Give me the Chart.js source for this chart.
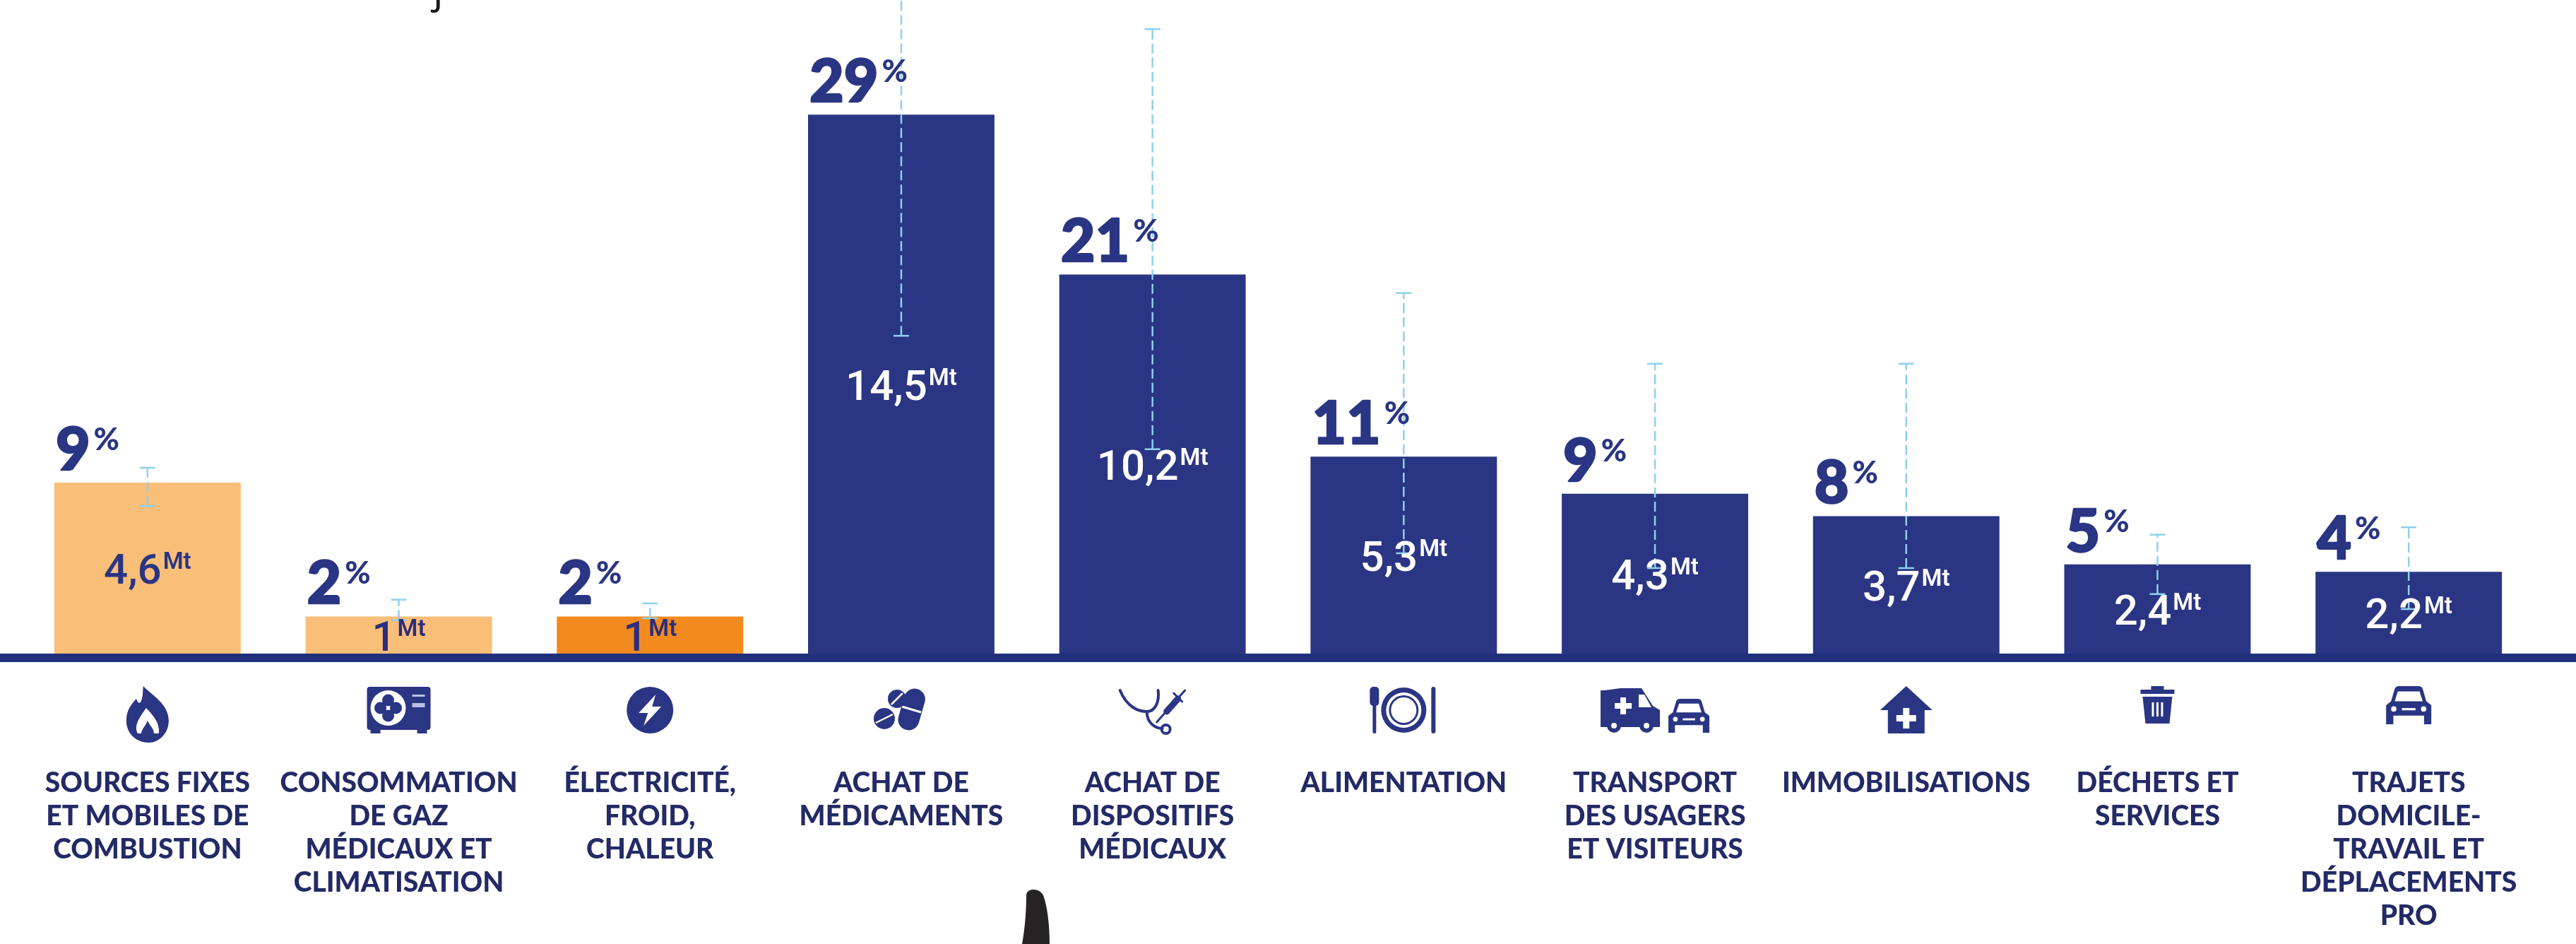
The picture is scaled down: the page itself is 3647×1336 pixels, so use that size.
<!DOCTYPE html>
<html><head><meta charset="utf-8">
<style>html,body{margin:0;padding:0;background:#fff}canvas{display:block}</style>
<script src="https://cdn.jsdelivr.net/npm/chart.js@4"></script>
</head><body><canvas id="c" width="3647" height="1336"></canvas>
<script>
const categories = [
 "SOURCES FIXES\nET MOBILES DE\nCOMBUSTION",
 "CONSOMMATION\nDE GAZ\nMÉDICAUX ET\nCLIMATISATION",
 "ÉLECTRICITÉ,\nFROID,\nCHALEUR",
 "ACHAT DE\nMÉDICAMENTS",
 "ACHAT DE\nDISPOSITIFS\nMÉDICAUX",
 "ALIMENTATION",
 "TRANSPORT\nDES USAGERS\nET VISITEURS",
 "IMMOBILISATIONS",
 "DÉCHETS ET\nSERVICES",
 "TRAJETS\nDOMICILE-\nTRAVAIL ET\nDÉPLACEMENTS\nPRO"];
const emissionsMt = [4.6, 1, 1, 14.5, 10.2, 5.3, 4.3, 3.7, 2.4, 2.2];
const sharePercent = [9, 2, 2, 29, 21, 11, 9, 8, 5, 4];
const rangeLow  = [3.97, 0.9, 0.95, 8.55, 5.5, 2.7, 2.3, 2.3, 1.6, 1.2];
const rangeHigh = [5.0, 1.45, 1.35, 20.5, 16.8, 9.7, 7.8, 7.8, 3.2, 3.4];
const barColors = ["#F9BE78","#F9BE78","#F28A1F","#2A3583","#2A3583","#2A3583","#2A3583","#2A3583","#2A3583","#2A3583"];
const mtColors  = ["#2A3583","#2A2F7E","#2A2F7E","#fff","#fff","#fff","#fff","#fff","#fff","#fff"];
const NAVY="#2A3583", LABEL="#232A66";

const whiskers=[];
categories.forEach((c,i)=>{whiskers.push({x:c,y:rangeLow[i]},{x:c,y:rangeHigh[i]},{x:c,y:null});});

function R(ctx,x,y,w,h,r){ctx.beginPath();ctx.roundRect(x,y,w,h,r);ctx.fill();}
function carShape(ctx,w,h){
  ctx.beginPath();
  ctx.moveTo(-w,h*0.55);ctx.lineTo(-w,h*0.0);ctx.lineTo(-w*0.78,-h*0.2);ctx.lineTo(-w*0.62,-h*0.85);
  ctx.quadraticCurveTo(-w*0.58,-h,-w*0.42,-h);ctx.lineTo(w*0.42,-h);ctx.quadraticCurveTo(w*0.58,-h,w*0.62,-h*0.85);
  ctx.lineTo(w*0.78,-h*0.2);ctx.lineTo(w,h*0.0);ctx.lineTo(w,h*0.55);ctx.closePath();ctx.fill();
  ctx.fillRect(-w,h*0.5,w*0.32,h*0.5);ctx.fillRect(w*0.68,h*0.5,w*0.32,h*0.5);
  ctx.fillStyle="#fff";
  ctx.beginPath();ctx.moveTo(-w*0.62,-h*0.2);ctx.lineTo(-w*0.48,-h*0.72);ctx.lineTo(w*0.48,-h*0.72);ctx.lineTo(w*0.62,-h*0.2);ctx.closePath();ctx.fill();
  ctx.beginPath();ctx.arc(-w*0.66,h*0.2,h*0.14,0,7);ctx.arc(w*0.66,h*0.2,h*0.14,0,7);ctx.fill();
  ctx.fillRect(-w*0.3,h*0.15,w*0.6,h*0.12);
  ctx.fillStyle=NAVY;
}
const icons=[
 function(ctx){ // flame
  ctx.translate(0,-3);
  ctx.beginPath();ctx.moveTo(-6,-31);ctx.bezierCurveTo(6,-18,30,-6,30,18);ctx.bezierCurveTo(30,36,16,49,2,49);
  ctx.bezierCurveTo(-16,49,-30,36,-30,18);ctx.bezierCurveTo(-30,2,-22,-6,-16,-13);ctx.bezierCurveTo(-14,-8,-12,-6,-10,-8);ctx.bezierCurveTo(-6,-14,-7,-24,-6,-31);ctx.fill();
  ctx.fillStyle="#fff";ctx.beginPath();ctx.moveTo(-2,0);ctx.bezierCurveTo(8,10,18,22,16,36);ctx.lineTo(-14,36);ctx.bezierCurveTo(-20,24,-10,12,-2,0);ctx.fill();
  ctx.fillStyle=NAVY;ctx.beginPath();ctx.moveTo(0,18);ctx.bezierCurveTo(4,26,10,30,9,38);ctx.bezierCurveTo(7,49,-7,49,-9,38);ctx.bezierCurveTo(-9,30,-3,26,0,18);ctx.fill();
 },
 function(ctx){ // AC unit
  R(ctx,-45,-33,90,61,4);ctx.fillRect(-40,27,14,6);ctx.fillRect(26,27,14,6);
  ctx.fillStyle="#fff";ctx.beginPath();ctx.arc(-15,-3,25,0,7);ctx.fill();
  ctx.fillStyle=NAVY;
  [[-15,-14],[-4,-3],[-15,8],[-26,-3]].forEach(p=>{ctx.beginPath();ctx.arc(p[0],p[1],8.5,0,7);ctx.fill();});
  ctx.fillStyle="#fff";ctx.beginPath();ctx.arc(-15,-3,2.5,0,7);ctx.fill();
  ctx.fillStyle="#B9C0E4";ctx.fillRect(19,-22,18,3);ctx.fillRect(19,-10,18,6);
 },
 function(ctx){ // bolt
  ctx.beginPath();ctx.arc(0,0,33,0,7);ctx.fill();
  ctx.fillStyle="#fff";ctx.beginPath();ctx.moveTo(8,-22);ctx.lineTo(-16,4);ctx.lineTo(-3,4);ctx.lineTo(-9,22);ctx.lineTo(16,-5);ctx.lineTo(3,-5);ctx.closePath();ctx.fill();
 },
 function(ctx){ // pills
  ctx.fillStyle=NAVY;
  ctx.save();ctx.translate(15,-2);ctx.rotate(0.28);R(ctx,-15,-29,30,60,15);ctx.restore();
  ctx.strokeStyle="#fff";ctx.lineWidth=3;ctx.beginPath();ctx.moveTo(1,-5);ctx.lineTo(28,3);ctx.stroke();
  ctx.beginPath();ctx.arc(-6,-16,13,0,7);ctx.fill();
  ctx.beginPath();ctx.arc(-24,12,15,0,7);ctx.fill();
  ctx.lineWidth=2.5;ctx.beginPath();ctx.moveTo(-14,-8);ctx.lineTo(2,-24);ctx.moveTo(-36,18);ctx.lineTo(-12,6);ctx.stroke();
 },
 function(ctx){ // stethoscope and syringe
  ctx.strokeStyle=NAVY;ctx.lineWidth=4;ctx.lineCap="round";
  ctx.beginPath();ctx.moveTo(-46,-28);ctx.bezierCurveTo(-36,-4,-20,2,-8,2);ctx.bezierCurveTo(4,2,10,-12,8,-28);ctx.stroke();
  ctx.beginPath();ctx.moveTo(-8,2);ctx.bezierCurveTo(-8,20,6,26,14,26);ctx.stroke();
  ctx.beginPath();ctx.arc(19,27,6,0,7);ctx.stroke();
  ctx.lineWidth=9;ctx.beginPath();ctx.moveTo(20,2);ctx.lineTo(36,-16);ctx.stroke();
  ctx.lineWidth=3;ctx.beginPath();ctx.moveTo(6,17);ctx.lineTo(46,-28);ctx.moveTo(30,-24);ctx.lineTo(42,-12);ctx.stroke();
 },
 function(ctx){ // plate and cutlery
  ctx.beginPath();ctx.arc(0,0,32,0,7);ctx.fill();
  ctx.fillStyle="#fff";ctx.beginPath();ctx.arc(0,0,25,0,7);ctx.fill();
  ctx.fillStyle=NAVY;ctx.beginPath();ctx.arc(0,0,21,0,7);ctx.fill();
  ctx.fillStyle="#fff";ctx.beginPath();ctx.arc(0,0,18,0,7);ctx.fill();
  ctx.fillStyle=NAVY;
  R(ctx,-44,-8,5,41,2);R(ctx,-48,-33,13,27,5);
  R(ctx,39,-33,6,66,3);
 },
 function(ctx){ // ambulance and car
  ctx.save();ctx.translate(-35,0);
  ctx.beginPath();ctx.moveTo(-42,24);ctx.lineTo(-42,-28);ctx.lineTo(-36,-28);ctx.lineTo(-14,-31);ctx.lineTo(16,-31);ctx.lineTo(32,-6);ctx.lineTo(42,0);ctx.lineTo(42,24);ctx.closePath();ctx.fill();
  ctx.fillStyle="#fff";
  ctx.fillRect(-22,-10,24,8);ctx.fillRect(-14,-18,8,24);
  ctx.beginPath();ctx.moveTo(12,-22);ctx.lineTo(20,-22);ctx.lineTo(30,-4);ctx.lineTo(12,-4);ctx.closePath();ctx.fill();
  [-23,23].forEach(x=>{ctx.fillStyle=NAVY;ctx.beginPath();ctx.arc(x,22,10,0,7);ctx.fill();ctx.fillStyle="#fff";ctx.beginPath();ctx.arc(x,22,4,0,7);ctx.fill();});
  ctx.restore();ctx.fillStyle=NAVY;
  ctx.save();ctx.translate(48,8);carShape(ctx,29,24);ctx.restore();
 },
 function(ctx){ // house
  ctx.beginPath();ctx.moveTo(0,-34);ctx.lineTo(37,0);ctx.lineTo(26,0);ctx.lineTo(26,33);ctx.lineTo(-26,33);ctx.lineTo(-26,0);ctx.lineTo(-37,0);ctx.closePath();ctx.fill();
  ctx.fillStyle="#fff";ctx.fillRect(-14,7,28,9);ctx.fillRect(-4.5,-3,9,29);
 },
 function(ctx){ // bin
  ctx.translate(0,-7);
  ctx.fillRect(-24,-22,48,6);ctx.fillRect(-9,-27,18,6);
  ctx.beginPath();ctx.moveTo(-21,-12);ctx.lineTo(21,-12);ctx.lineTo(17,26);ctx.lineTo(-17,26);ctx.closePath();ctx.fill();
  ctx.fillStyle="#fff";[-8,-1.5,5].forEach(x=>ctx.fillRect(x,-4,3,20));
 },
 function(ctx){ // car
  ctx.translate(0,-7);carShape(ctx,32,27);
 }
];

const dressing={id:'dressing',
 beforeDatasetsDraw(chart){
  const c=chart.ctx,y0=chart.scales.y.getPixelForValue(0);
  c.save();c.fillStyle="#1F2F7C";c.fillRect(0,y0,chart.width,12);c.restore();
 },
 afterDatasetsDraw(chart){
  const c=chart.ctx,meta=chart.getDatasetMeta(0);
  c.save();
  c.textBaseline="alphabetic";
  meta.data.forEach((b,i)=>{
   const left=b.x-b.width/2, top=b.y, mid=(b.y+b.base)/2;
   c.textAlign="left";c.fillStyle=NAVY;c.strokeStyle=NAVY;c.lineJoin="round";
   c.font='900 84px Lato';
   const s=String(sharePercent[i]);
   const w=c.measureText(s).width;
   c.fillText(s,left+2,top-18);
   c.lineWidth=2.5;c.strokeText(s,left+2,top-18);
   c.font='900 44px Lato';
   c.fillText('%',left+2+w+5,top-18-28);
   const v=String(emissionsMt[i]).replace('.',',');
   c.font='500 60px Roboto';
   const vw=c.measureText(v).width;
   c.font='600 33px Roboto';
   const mw=c.measureText('Mt').width;
   const sx=b.x-(vw+mw+2)/2, by=mid+22;
   c.fillStyle=mtColors[i];
   c.font='500 60px Roboto';c.fillText(v,sx,by);
   c.font='600 33px Roboto';c.fillText('Mt',sx+vw+2,by-21);
  });
  const xs=chart.scales.x;
  categories.forEach((_,i)=>{
   c.save();c.translate(xs.getPixelForValue(i),1005);c.fillStyle=NAVY;icons[i](c);c.restore();
  });
  // fragment of the cropped title and dark silhouette visible in the crop
  c.fillStyle="#1a1a1a";c.font='400 58px "Open Sans"';c.textAlign="left";c.fillText("j",613,4);
  c.fillStyle="#262424";c.beginPath();
  c.moveTo(1447,1336);c.bezierCurveTo(1450,1320,1453,1295,1453,1268);c.bezierCurveTo(1453,1261,1458,1259,1463,1259);
  c.bezierCurveTo(1471,1259,1476,1263,1478,1270);c.bezierCurveTo(1483,1285,1486,1310,1486,1336);c.closePath();c.fill();
  c.restore();
 }
};

new Chart(document.getElementById('c'),{
 data:{labels:categories,datasets:[
  {type:'bar',data:emissionsMt,backgroundColor:barColors,borderWidth:0,categoryPercentage:0.742,barPercentage:1,order:2},
  {type:'line',data:whiskers,borderColor:"#8ED0EE",borderWidth:2.5,borderDash:[14,6],pointStyle:'line',pointRadius:11,pointBorderColor:"#8ED0EE",pointBorderWidth:2.5,spanGaps:false,order:1,tension:0}
 ]},
 options:{
  responsive:false,animation:false,devicePixelRatio:1,
  layout:{autoPadding:false,padding:{left:31,right:59,top:0,bottom:0}},
  plugins:{legend:{display:false},tooltip:{enabled:false},title:{display:false}},
  scales:{
   y:{display:false,min:0,max:17.586},
   x:{offset:true,border:{display:false},grid:{display:false,drawTicks:false},
     afterFit(s){s.height=411;s.paddingLeft=0;s.paddingRight=0;},
     ticks:{autoSkip:false,maxRotation:0,minRotation:0,padding:160,color:LABEL,
       font:{family:'Lato',weight:'900',size:39,lineHeight:1.205},
       callback(v){return this.getLabelForValue(v).split('\n');}}}
  }
 },
 plugins:[dressing]
});
</script></body></html>
